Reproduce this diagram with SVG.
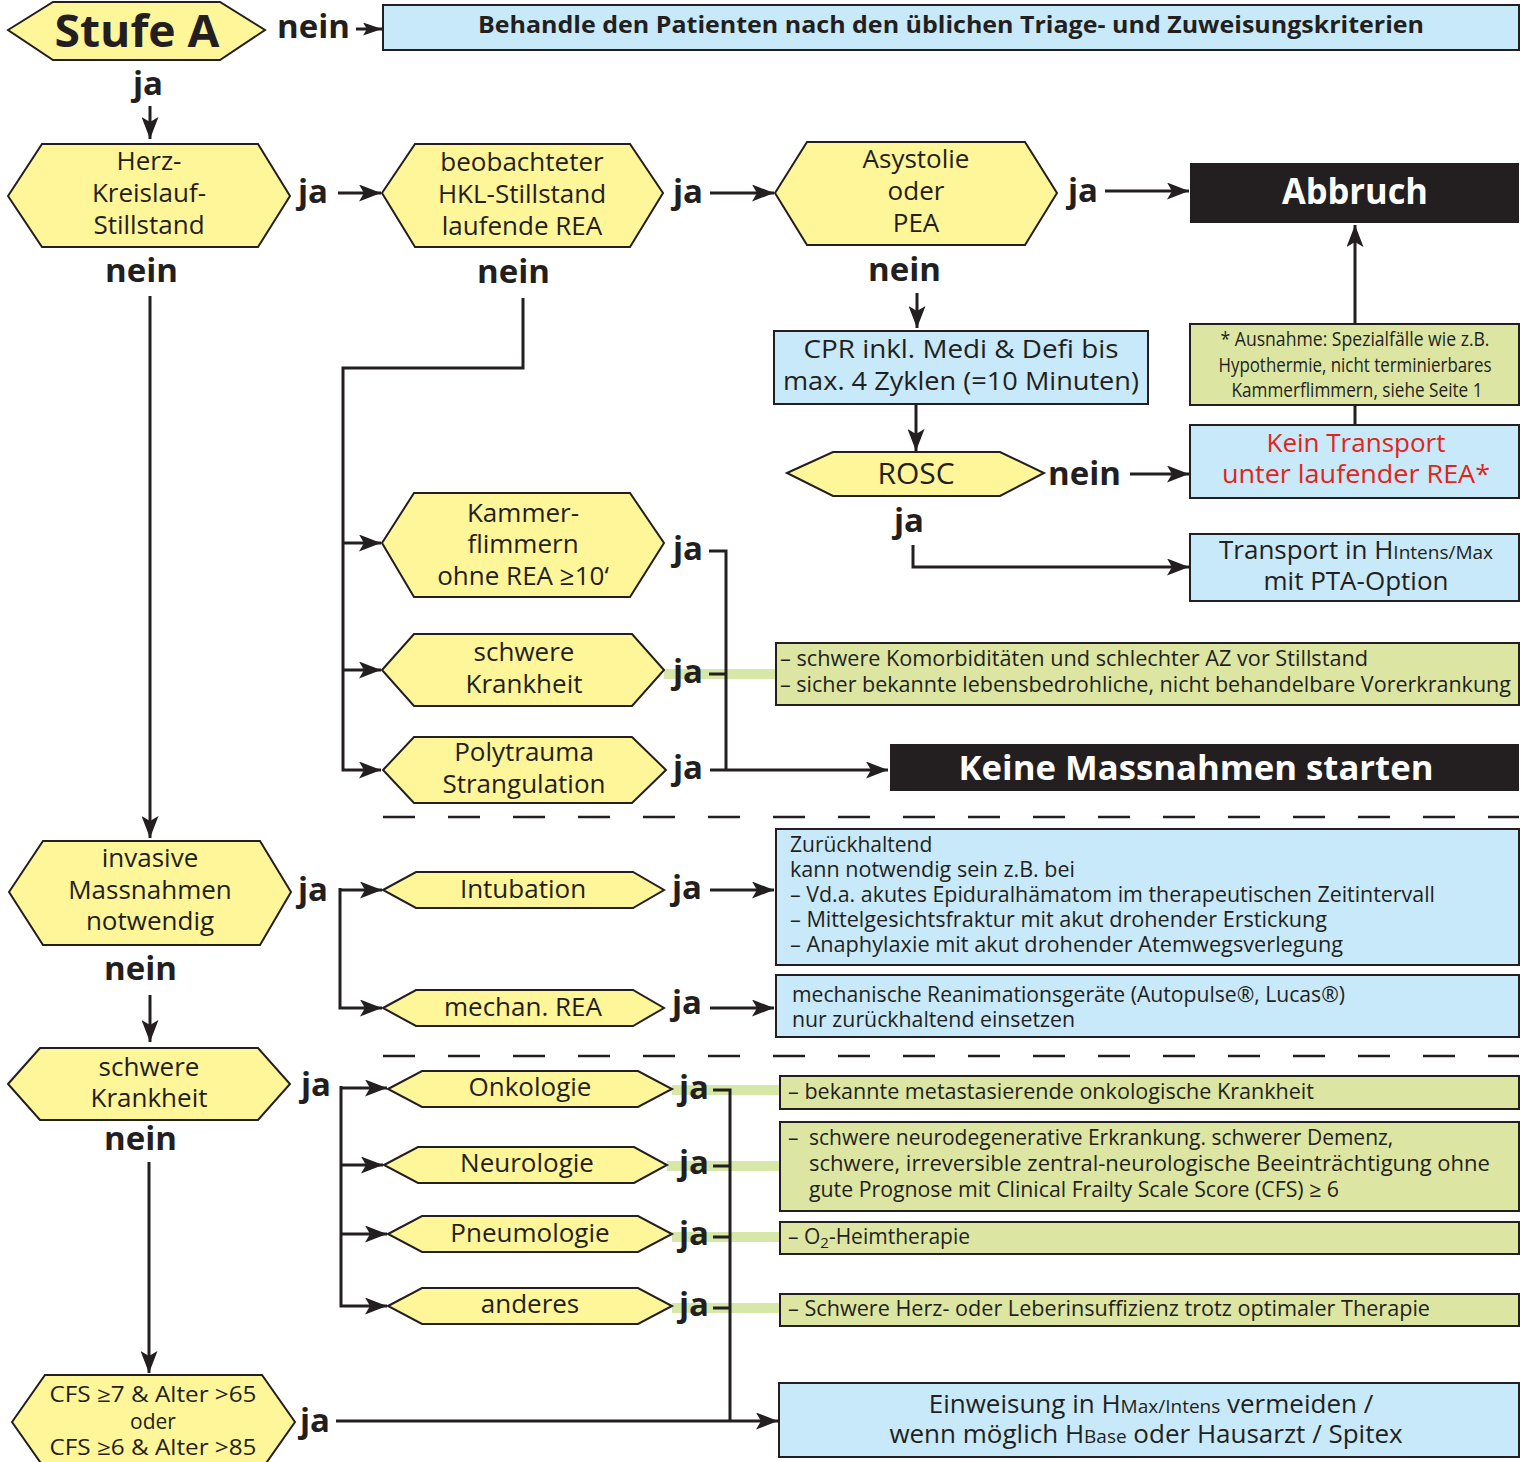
<svg xmlns="http://www.w3.org/2000/svg" width="1525" height="1462" viewBox="0 0 1525 1462">
<style>
text{font-family:"Open Sans","Noto Sans",sans-serif;fill:#231f20}
.hex{fill:#fff599;stroke:#231f20;stroke-width:2}
.blue{fill:#c8e9f9;stroke:#231f20;stroke-width:2}
.green{fill:#dce6a2;stroke:#231f20;stroke-width:2}
.blk{fill:#231f20}
.hx{font-size:26px;text-anchor:middle}
.lbl{font-size:33px;font-weight:bold}
.conn{fill:none;stroke:#231f20;stroke-width:3}
.band{fill:none;stroke:#d6e7a8;stroke-width:10}
.dash{stroke:#231f20;stroke-width:2.5;stroke-dasharray:32 33}
.sm{font-size:21px}
.wt{fill:#ffffff;font-weight:bold;text-anchor:middle}
.red{fill:#e2231a}
.cfs{font-size:21px;text-anchor:middle}
.note{font-size:20px;text-anchor:middle}
</style>
<defs>
<marker id="ah" markerUnits="userSpaceOnUse" markerWidth="22" markerHeight="17" refX="22" refY="8.5" orient="auto">
<path d="M0,0 L22,8.5 L0,17 L5,8.5 z" fill="#231f20"/>
</marker>
<marker id="ahs" markerUnits="userSpaceOnUse" markerWidth="19" markerHeight="13" refX="19" refY="6.5" orient="auto">
<path d="M0,0 L19,6.5 L0,13 L4,6.5 z" fill="#231f20"/>
</marker>
</defs>

<g id="connectors">
<line class="band" x1="664" y1="674" x2="776" y2="674"/>
<line class="band" x1="672" y1="1090" x2="780" y2="1090"/>
<line class="band" x1="667" y1="1166" x2="780" y2="1166"/>
<line class="band" x1="672" y1="1237" x2="780" y2="1237"/>
<line class="band" x1="672" y1="1308" x2="780" y2="1308"/>

<line class="conn" x1="356" y1="29" x2="382" y2="29" marker-end="url(#ahs)"/>
<line class="conn" x1="150" y1="106" x2="150" y2="139" marker-end="url(#ah)"/>
<line class="conn" x1="338" y1="193" x2="381" y2="193" marker-end="url(#ah)"/>
<line class="conn" x1="710" y1="193" x2="774" y2="193" marker-end="url(#ah)"/>
<line class="conn" x1="1105" y1="191" x2="1189" y2="191" marker-end="url(#ah)"/>
<line class="conn" x1="917" y1="293" x2="917" y2="328" marker-end="url(#ah)"/>
<line class="conn" x1="916" y1="404" x2="916" y2="451" marker-end="url(#ah)"/>
<line class="conn" x1="1130" y1="474" x2="1189" y2="474" marker-end="url(#ah)"/>
<line class="conn" x1="1355" y1="425" x2="1355" y2="405"/>
<line class="conn" x1="1355" y1="324" x2="1355" y2="225" marker-end="url(#ah)"/>
<path class="conn" d="M913,545 V567 H1189" marker-end="url(#ah)"/>

<path class="conn" d="M523,298 V368 H343 V770 H381" marker-end="url(#ah)"/>
<line class="conn" x1="343" y1="543" x2="381" y2="543" marker-end="url(#ah)"/>
<line class="conn" x1="343" y1="670" x2="381" y2="670" marker-end="url(#ah)"/>
<path class="conn" d="M709,551 H726 V770"/>
<line class="conn" x1="709" y1="674" x2="726" y2="674"/>
<line class="conn" x1="710" y1="770" x2="888" y2="770" marker-end="url(#ah)"/>

<line class="conn" x1="150" y1="296" x2="150" y2="838" marker-end="url(#ah)"/>
<line class="dash" x1="383" y1="817" x2="1519" y2="817"/>

<path class="conn" d="M340,890 H382" marker-end="url(#ah)"/>
<path class="conn" d="M340,888 V1008 H382" marker-end="url(#ah)"/>
<line class="conn" x1="710" y1="890" x2="774" y2="890" marker-end="url(#ah)"/>
<line class="conn" x1="710" y1="1008" x2="774" y2="1008" marker-end="url(#ah)"/>
<line class="conn" x1="150" y1="995" x2="150" y2="1042" marker-end="url(#ah)"/>
<line class="dash" x1="383" y1="1056" x2="1519" y2="1056"/>

<path class="conn" d="M341,1088 H387" marker-end="url(#ah)"/>
<path class="conn" d="M341,1086 V1306 H387" marker-end="url(#ah)"/>
<line class="conn" x1="341" y1="1165" x2="383" y2="1165" marker-end="url(#ah)"/>
<line class="conn" x1="341" y1="1234" x2="387" y2="1234" marker-end="url(#ah)"/>
<path class="conn" d="M713,1090 H730 V1421"/>
<line class="conn" x1="713" y1="1166" x2="730" y2="1166"/>
<line class="conn" x1="713" y1="1237" x2="730" y2="1237"/>
<line class="conn" x1="713" y1="1308" x2="730" y2="1308"/>
<line class="conn" x1="149" y1="1162" x2="149" y2="1373" marker-end="url(#ah)"/>
<line class="conn" x1="336" y1="1421" x2="778" y2="1421" marker-end="url(#ah)"/>

<text class="lbl" x="277" y="38">nein</text>
<text class="lbl" x="133" y="95">ja</text>
<text class="lbl" x="298" y="203">ja</text>
<text class="lbl" x="673" y="203">ja</text>
<text class="lbl" x="1068" y="202">ja</text>
<text class="lbl" x="105" y="282">nein</text>
<text class="lbl" x="477" y="283">nein</text>
<text class="lbl" x="868" y="281">nein</text>
<text class="lbl" x="1048" y="485">nein</text>
<text class="lbl" x="894" y="532">ja</text>
<text class="lbl" x="673" y="560">ja</text>
<text class="lbl" x="673" y="683">ja</text>
<text class="lbl" x="673" y="779">ja</text>
<text class="lbl" x="298" y="901">ja</text>
<text class="lbl" x="672" y="899">ja</text>
<text class="lbl" x="672" y="1014">ja</text>
<text class="lbl" x="104" y="980">nein</text>
<text class="lbl" x="301" y="1096">ja</text>
<text class="lbl" x="104" y="1150">nein</text>
<text class="lbl" x="679" y="1099">ja</text>
<text class="lbl" x="679" y="1174">ja</text>
<text class="lbl" x="679" y="1245">ja</text>
<text class="lbl" x="679" y="1316">ja</text>
<text class="lbl" x="300" y="1432">ja</text>
</g>

<g id="stufeA">
<polygon class="hex" points="8,30 53,2 220,2 265,30 220,60 53,60"/>
<text x="137" y="47" font-size="45" font-weight="bold" text-anchor="middle" textLength="165" lengthAdjust="spacingAndGlyphs">Stufe A</text>
</g>
<g id="triage">
<rect class="blue" x="383" y="5" width="1136" height="45"/>
<text x="951" y="33" font-size="23" font-weight="bold" text-anchor="middle" textLength="946" lengthAdjust="spacingAndGlyphs">Behandle den Patienten nach den üblichen Triage- und Zuweisungskriterien</text>
</g>
<g id="herz">
<polygon class="hex" points="8,196 42,144 258,144 290,196 258,247 42,247"/>
<text class="hx" x="149" y="170">Herz-</text>
<text class="hx" x="149" y="202">Kreislauf-</text>
<text class="hx" x="149" y="234">Stillstand</text>
</g>
<g id="beobachtet">
<polygon class="hex" points="382,193 415,144 630,144 663,193 630,247 415,247"/>
<text class="hx" x="522" y="171">beobachteter</text>
<text class="hx" x="522" y="203">HKL-Stillstand</text>
<text class="hx" x="522" y="235">laufende REA</text>
</g>
<g id="asystolie">
<polygon class="hex" points="775,193 807,142 1025,142 1057,193 1025,245 807,245"/>
<text class="hx" x="916" y="168">Asystolie</text>
<text class="hx" x="916" y="200">oder</text>
<text class="hx" x="916" y="232">PEA</text>
</g>
<g id="abbruch">
<rect class="blk" x="1190" y="163" width="329" height="60"/>
<text class="wt" x="1355" y="204" font-size="36" textLength="146" lengthAdjust="spacingAndGlyphs">Abbruch</text>
</g>
<g id="cpr">
<rect class="blue" x="774" y="331" width="374" height="73"/>
<text class="hx" x="961" y="358" textLength="315" lengthAdjust="spacingAndGlyphs">CPR inkl. Medi &amp; Defi bis</text>
<text class="hx" x="961" y="390" textLength="356" lengthAdjust="spacingAndGlyphs">max. 4 Zyklen (=10 Minuten)</text>
</g>
<g id="ausnahme">
<rect class="green" x="1190" y="324" width="329" height="81"/>
<text class="note" x="1355" y="346" textLength="269" lengthAdjust="spacingAndGlyphs">* Ausnahme: Spezialfälle wie z.B.</text>
<text class="note" x="1355" y="372" textLength="273" lengthAdjust="spacingAndGlyphs">Hypothermie, nicht terminierbares</text>
<text class="note" x="1357" y="397" textLength="251" lengthAdjust="spacingAndGlyphs">Kammerflimmern, siehe Seite 1</text>
</g>
<g id="rosc">
<polygon class="hex" points="787,473 833,452 1000,452 1044,473 1000,496 833,496"/>
<text class="hx" x="916" y="484" style="font-size:30px">ROSC</text>
</g>
<g id="keintransport">
<rect class="blue" x="1190" y="425" width="329" height="73"/>
<text class="hx red" x="1356" y="452">Kein Transport</text>
<text class="hx red" x="1356" y="483" textLength="268" lengthAdjust="spacingAndGlyphs">unter laufender REA*</text>
</g>
<g id="transport">
<rect class="blue" x="1190" y="534" width="329" height="67"/>
<text x="1356" y="559" font-size="26" text-anchor="middle">Transport in H<tspan font-size="19">Intens/Max</tspan></text>
<text class="hx" x="1356" y="590">mit PTA-Option</text>
</g>
<g id="kammer">
<polygon class="hex" points="382,543 414,493 630,493 664,543 630,597 414,597"/>
<text class="hx" x="523" y="522">Kammer-</text>
<text class="hx" x="523" y="553">flimmern</text>
<text class="hx" x="523" y="585">ohne REA ≥10‘</text>
</g>
<g id="schwere1">
<polygon class="hex" points="382,670 414,634 632,634 664,670 632,706 414,706"/>
<text class="hx" x="524" y="661">schwere</text>
<text class="hx" x="524" y="693">Krankheit</text>
</g>
<g id="poly">
<polygon class="hex" points="383,770 414,737 632,737 666,770 632,803 414,803"/>
<text class="hx" x="524" y="761">Polytrauma</text>
<text class="hx" x="524" y="793">Strangulation</text>
</g>
<g id="komorb">
<rect class="green" x="776" y="643" width="743" height="62"/>
<text class="sm" x="780" y="666" textLength="588" lengthAdjust="spacingAndGlyphs">– schwere Komorbiditäten und schlechter AZ vor Stillstand</text>
<text class="sm" x="780" y="692" textLength="731" lengthAdjust="spacingAndGlyphs">– sicher bekannte lebensbedrohliche, nicht behandelbare Vorerkrankung</text>
</g>
<g id="keine">
<rect class="blk" x="890" y="744" width="629" height="47"/>
<text class="wt" x="1196" y="780" font-size="34" textLength="475" lengthAdjust="spacingAndGlyphs">Keine Massnahmen starten</text>
</g>
<g id="invasive">
<polygon class="hex" points="9,892 43,841 260,841 291,892 260,945 43,945"/>
<text class="hx" x="150" y="867">invasive</text>
<text class="hx" x="150" y="899">Massnahmen</text>
<text class="hx" x="150" y="930">notwendig</text>
</g>
<g id="intubation">
<polygon class="hex" points="383,890 416,872 633,872 664,890 633,908 416,908"/>
<text class="hx" x="523" y="898">Intubation</text>
</g>
<g id="mechan">
<polygon class="hex" points="383,1008 416,990 633,990 664,1008 633,1026 416,1026"/>
<text class="hx" x="523" y="1016">mechan. REA</text>
</g>
<g id="zurueck">
<rect class="blue" x="776" y="829" width="743" height="136"/>
<text class="sm" x="790" y="852">Zurückhaltend</text>
<text class="sm" x="790" y="877" textLength="285" lengthAdjust="spacingAndGlyphs">kann notwendig sein z.B. bei</text>
<text class="sm" x="790" y="902" textLength="645" lengthAdjust="spacingAndGlyphs">– Vd.a. akutes Epiduralhämatom im therapeutischen Zeitintervall</text>
<text class="sm" x="790" y="927" textLength="537" lengthAdjust="spacingAndGlyphs">– Mittelgesichtsfraktur mit akut drohender Erstickung</text>
<text class="sm" x="790" y="952" textLength="553" lengthAdjust="spacingAndGlyphs">– Anaphylaxie mit akut drohender Atemwegsverlegung</text>
</g>
<g id="mechanbox">
<rect class="blue" x="776" y="975" width="743" height="62"/>
<text class="sm" x="792" y="1002" textLength="553" lengthAdjust="spacingAndGlyphs">mechanische Reanimationsgeräte (Autopulse®, Lucas®)</text>
<text class="sm" x="792" y="1027" textLength="283" lengthAdjust="spacingAndGlyphs">nur zurückhaltend einsetzen</text>
</g>
<g id="schwere2">
<polygon class="hex" points="8,1084 40,1048 258,1048 290,1084 258,1120 40,1120"/>
<text class="hx" x="149" y="1076">schwere</text>
<text class="hx" x="149" y="1107">Krankheit</text>
</g>
<g id="onko">
<polygon class="hex" points="388,1089 422,1071 638,1071 672,1089 638,1107 422,1107"/>
<text class="hx" x="530" y="1096">Onkologie</text>
</g>
<g id="neuro">
<polygon class="hex" points="384,1165 418,1147 634,1147 667,1165 634,1183 418,1183"/>
<text class="hx" x="527" y="1172">Neurologie</text>
</g>
<g id="pneumo">
<polygon class="hex" points="388,1234 422,1216 638,1216 672,1234 638,1252 422,1252"/>
<text class="hx" x="530" y="1242">Pneumologie</text>
</g>
<g id="anderes">
<polygon class="hex" points="388,1306 422,1288 638,1288 672,1306 638,1324 422,1324"/>
<text class="hx" x="530" y="1313">anderes</text>
</g>
<g id="onkobox">
<rect class="green" x="780" y="1076" width="739" height="33"/>
<text class="sm" x="788" y="1099" textLength="526" lengthAdjust="spacingAndGlyphs">– bekannte metastasierende onkologische Krankheit</text>
</g>
<g id="neurobox">
<rect class="green" x="780" y="1122" width="739" height="89"/>
<text class="sm" x="788" y="1145">–</text>
<text class="sm" x="809" y="1145">schwere neurodegenerative Erkrankung. schwerer Demenz,</text>
<text class="sm" x="809" y="1171" textLength="681" lengthAdjust="spacingAndGlyphs">schwere, irreversible zentral-neurologische Beeinträchtigung ohne</text>
<text class="sm" x="809" y="1197" textLength="530" lengthAdjust="spacingAndGlyphs">gute Prognose mit Clinical Frailty Scale Score (CFS) ≥ 6</text>
</g>
<g id="o2box">
<rect class="green" x="780" y="1222" width="739" height="32"/>
<text class="sm" x="788" y="1244">– O<tspan font-size="15" dy="4">2</tspan><tspan dy="-4">-Heimtherapie</tspan></text>
</g>
<g id="herzbox">
<rect class="green" x="780" y="1294" width="739" height="32"/>
<text class="sm" x="788" y="1316" textLength="642" lengthAdjust="spacingAndGlyphs">– Schwere Herz- oder Leberinsuffizienz trotz optimaler Therapie</text>
</g>
<g id="cfs">
<polygon class="hex" points="12,1422 45,1375 262,1375 295,1422 262,1469 45,1469"/>
<text class="cfs" x="153" y="1402" textLength="207" lengthAdjust="spacingAndGlyphs">CFS ≥7 &amp; Alter &gt;65</text>
<text class="cfs" x="153" y="1429">oder</text>
<text class="cfs" x="153" y="1455" textLength="207" lengthAdjust="spacingAndGlyphs">CFS ≥6 &amp; Alter &gt;85</text>
</g>
<g id="einweisung">
<rect class="blue" x="779" y="1383" width="740" height="74"/>
<text x="1151" y="1413" font-size="26" text-anchor="middle">Einweisung in H<tspan font-size="19">Max/Intens</tspan> vermeiden /</text>
<text x="1146" y="1443" font-size="26" text-anchor="middle">wenn möglich H<tspan font-size="19">Base</tspan> oder Hausarzt / Spitex</text>
</g>
</svg>
